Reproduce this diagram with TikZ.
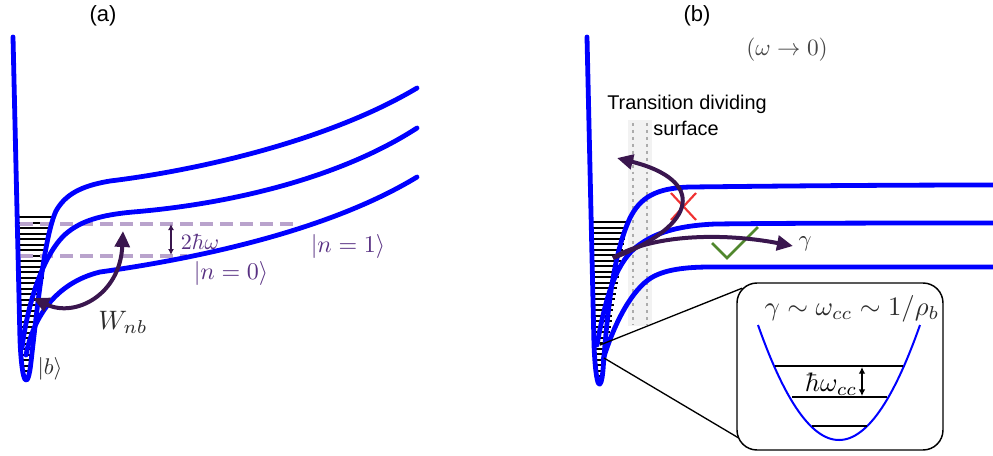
\documentclass[tikz,border=0pt]{standalone}
\usepackage{fontspec}
\newfontfamily\labfont{Liberation Sans}
\usetikzlibrary{arrows.meta,calc}
\definecolor{potblue}{RGB}{0,0,255}
\definecolor{lav}{RGB}{185,163,204}
\definecolor{arrpurple}{RGB}{58,22,78}
\definecolor{txtpurple}{RGB}{88,48,130}
\definecolor{darktxt}{RGB}{45,45,45}
\definecolor{graytxt}{RGB}{70,70,70}
\definecolor{xred}{RGB}{240,50,50}
\definecolor{okgreen}{RGB}{80,135,45}
\newcommand{\fsz}[1]{\fontsize{#1}{#1}\selectfont}
\begin{document}
\begin{tikzpicture}[x={(0.75pt,0)},y={(0,-0.75pt)},
  pot/.style={draw=potblue,line width=3.6pt,line cap=round,line join=round},
  lvl/.style={draw=black,line width=1.5pt},
  dashlvl/.style={draw=lav,line width=3pt,dash pattern=on 10pt off 5pt},
  parr/.style={draw=arrpurple,line width=3pt},
  thinarr/.style={draw=arrpurple,line width=1.1pt,{Latex[length=4.5pt,width=4.5pt]}-{Latex[length=4.5pt,width=4.5pt]}},
  blackarr/.style={draw=black,line width=1.1pt,{Latex[length=5pt,width=5pt]}-{Latex[length=5pt,width=5pt]}},
  dotl/.style={draw=gray!65,line width=2.2pt,dash pattern=on 2.2pt off 3pt},
  panel/.style={font=\labfont\fsz{16.5}},
  tds/.style={font=\labfont\fsz{14.9},inner sep=0pt},
  mth/.style={font=\fsz{10},inner sep=0pt,scale=#1},
  ket/.style={text=txtpurple,mth=1.8},
  inlvl/.style={draw=black,line width=1.5pt}]
\useasboundingbox (0,0) rectangle (993,455);

% ---------- panel labels
\node[panel] (labA) at (103,16) {(a)};
\node[panel] (labB) at (697,16) {(b)};

% ---------- panel (b) dividing surface band
\fill[gray!10] (628,120) rectangle (652,326);
\draw[dotl] (633,123) -- (633,325);
\draw[dotl] (647,123) -- (647,325);

% ---------- level ladders
\foreach \yy in {217,222.5,...,378}
  \draw[lvl] ({15+0.0231*(\yy-37)},\yy) -- ({26+0.165*(384-\yy)},\yy);
\foreach \yy in {222,227.5,...,380}
  \draw[lvl] ({589+0.0231*(\yy-37)},\yy) -- ({601+0.16*(387-\yy)},\yy);

% ---------- dashed levels (a)
\draw[dashlvl] (20,224) -- (300,224);
\draw[dashlvl] (20,256) -- (187,256);

% ---------- potential curves (a)
\draw[pot] (13,37) -- (20,340) .. controls (22,388) and (28,390) .. (31,362)
  .. controls (38,300) and (45,235) .. (56,211)
  .. controls (65,195) and (80,186) .. (110,181)
  .. controls (200,170) and (330,140) .. (417,88);
\draw[pot] (22,348) .. controls (28,300) and (45,250) .. (68,232)
  .. controls (82,221) and (100,215) .. (133,212)
  .. controls (230,204) and (340,178) .. (417,128);
\draw[pot] (26,355) .. controls (33,318) and (55,283) .. (100,272)
  .. controls (200,258) and (330,230) .. (417,177);

% ---------- potential curves (b)
\draw[pot] (587,37) -- (594,345) .. controls (596,392) and (601,392) .. (603,370)
  .. controls (608,300) and (615,250) .. (630,218)
  .. controls (640,198) and (655,188) .. (690,187)
  .. controls (780,186) and (880,185) .. (995,185);
\draw[pot] (597,345) .. controls (605,300) and (615,265) .. (635,248)
  .. controls (650,236) and (670,226) .. (715,224)
  .. controls (800,223) and (900,223) .. (995,223);
\draw[pot] (603,360) .. controls (612,330) and (628,295) .. (648,280)
  .. controls (660,271) and (680,267) .. (710,267) -- (995,267);

% ---------- labels (a)
\coordinate (d1) at (171,224);
\coordinate (d2) at (171,255);
\draw[thinarr] (d1) -- (d2);
\node[text=txtpurple,mth=1.65] (twohw) at (200,242) {$2\hbar\omega$};
\node[ket] (n1) at (348,246) {$|n=1\rangle$};
\node[ket] (n0) at (231,273) {$|n=0\rangle$};
\node[text=darktxt,mth=2.0] (wnb) at (123,322) {$W_{nb}$};
\node[text=darktxt,mth=1.7] (bket) at (50,369) {$|b\rangle$};

\coordinate (wA) at (33,298);
\coordinate (wB) at (123,231);
\draw[parr,{Triangle[length=12pt,width=11pt]}-{Triangle[length=12pt,width=11pt]}]
  (wA) .. controls (75,318) and (120,295) .. (wB);

% ---------- labels (b)
\node[text=graytxt,mth=1.75] (omega) at (787,50) {$(\omega\to 0)$};
\node[tds] (tds1) at (687,104) {Transition dividing};
\node[tds] (tds2) at (686,128) {surface};

\draw[xred,line width=1.6pt] (671,193) -- (696,220) (696,193) -- (671,220);
\draw[okgreen,line width=2pt,line join=miter] (712,243) -- (727,258) -- (758,227);

\coordinate (bs) at (613,258);
\coordinate (br) at (617,158);
\coordinate (bt) at (793,246);
\draw[parr,-{Triangle[length=12pt,width=11pt]}] (bs) .. controls (700,225) and (705,180) .. (br);
\draw[parr,-{Triangle[length=12pt,width=11pt]}] (bs) .. controls (650,235) and (720,232) .. (bt);
\node[text=darktxt,mth=1.7] (gam) at (805,244) {$\gamma$};

% ---------- inset
\node[draw=black,line width=1.1pt,rounded corners=15pt,fill=white,
      minimum width=154.5pt,minimum height=125.25pt,inner sep=0pt] (box) at (840,366.5) {};
\coordinate (z1) at (600,345);
\coordinate (z2) at (604,358);
\draw[line width=1pt] (z1) -- ($(box.north west)+(5.9,5.9)$);
\draw[line width=1pt] (z2) -- ($(box.south west)+(2,-13)$);

\draw[potblue,line width=1.5pt] plot[domain=-81:81,samples=61] ({839+\x},{440-115*(\x/81)*(\x/81)});
\draw[inlvl] (775,366) -- (903,366);
\draw[inlvl] (792,397) -- (887,397);
\draw[inlvl] (812,426) -- (867,426);
\coordinate (h1) at (862,367);
\coordinate (h2) at (862,396);
\draw[blackarr] (h1) -- (h2);
\node[mth=2.0] (hwcc) at (831,384) {$\hbar\omega_{cc}$};
\node[text=darktxt,mth=2.0] (rel) at (852,309) {$\gamma\sim\omega_{cc}\sim 1/\rho_b$};
\end{tikzpicture}
\end{document}
